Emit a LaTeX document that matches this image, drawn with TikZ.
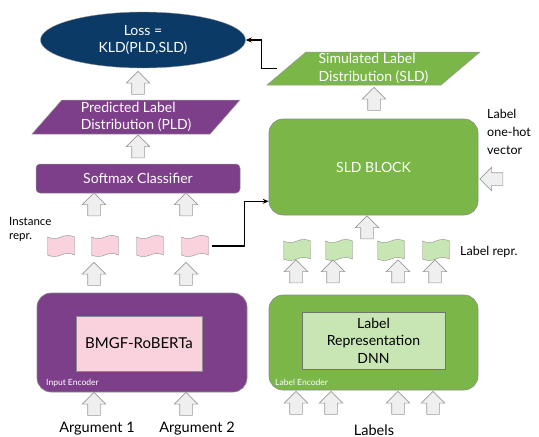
\documentclass[tikz,border=0pt]{standalone}
\usepackage{fontspec}
\setmainfont{Lato}
\usetikzlibrary{shapes.geometric,shapes.symbols,shapes.arrows,arrows.meta,calc}
\definecolor{navy}{HTML}{0C3A66}
\definecolor{plum}{HTML}{7E3F8A}
\definecolor{leaf}{HTML}{7AB648}
\definecolor{paleleaf}{HTML}{C8E6B4}
\definecolor{blush}{HTML}{F9D2DE}
\definecolor{arrfill}{HTML}{EFEFEF}
\definecolor{arrline}{HTML}{9A9A9A}
\tikzset{
  bigtext/.style={font=\fontsize{14}{17.5}\selectfont},
  para/.style={trapezium, trapezium stretches body, inner sep=0pt,
    draw=black!40, line width=0.5pt, text=white, bigtext, align=left},
  panel/.style={draw=black!45, line width=0.6pt, rounded corners=14pt, inner sep=0pt},
  upblock/.style={single arrow, shape border rotate=90, fill=arrfill, draw=arrline,
    line width=0.6pt, inner sep=6pt, minimum height=23pt,
    single arrow head extend=5.5pt, single arrow head indent=0pt},
  leftblock/.style={upblock, shape border rotate=180},
  flag/.style={tape, tape bend height=3pt, minimum width=27pt, minimum height=21pt,
    inner sep=0pt, draw=black!45, line width=0.4pt},
  conn/.style={draw=black, line width=1.1pt, -{Stealth[length=6pt,width=5pt]}},
  caption/.style={font=\fontsize{11.5}{14}\selectfont, align=left},
  tag/.style={font=\fontsize{8.5}{10}\selectfont, text=white, anchor=west, inner sep=0pt},
  foot/.style={font=\fontsize{14.5}{17}\selectfont}
}
\begin{document}
\begin{tikzpicture}[x=1pt,y=-1pt]
\useasboundingbox (0,0) rectangle (539,437);

% ---------- top: loss ----------
\node[ellipse, fill=navy, draw=black!40, minimum width=205, minimum height=56,
  text=white, bigtext, align=center] (loss) at (143,40) {Loss =\\KLD(PLD,SLD)};

% ---------- left column: instance side ----------
\node[para, fill=plum, trapezium left angle=45, trapezium right angle=135,
  minimum width=208, minimum height=34] (pld) at (136,117)
  {Predicted Label\\Distribution (PLD)};

\node[fill=plum, draw=black!45, line width=0.5pt, rounded corners=4pt,
  minimum width=204, minimum height=29, text=white, bigtext] (soft) at (138,178.5)
  {Softmax Classifier};

\node[upblock] (a1) at (138,86) {};
\node[upblock] (a2) at (138,149.5) {};
\node[upblock] (a3) at (94,207.5) {};
\node[upblock] (a4) at (186,207.5) {};

\node[caption, anchor=north west, inner sep=0pt] (inst) at (9,217) {Instance\\repr.};
\node[flag, fill=blush] (p1) at (61,246) {};
\node[flag, fill=blush] (p2) at (105,246) {};
\node[flag, fill=blush] (p3) at (150,246) {};
\node[flag, fill=blush] (p4) at (195,246) {};

\node[upblock] (a5) at (94,277) {};
\node[upblock] (a6) at (186,277) {};

\node[panel, fill=plum, minimum width=210, minimum height=99] (ienc) at (142,342.5) {};
\node[fill=blush, draw=black!45, line width=0.5pt, minimum width=126, minimum height=55,
  font=\fontsize{15}{18}\selectfont] (bert) at (139,343.5) {BMGF-RoBERTa};
\node[tag] (itag) at (46,383) {Input Encoder};

\node[upblock] (a7) at (94,407) {};
\node[upblock] (a8) at (186,407) {};
\node[foot] (arg1) at (97,428.5) {Argument 1};
\node[foot] (arg2) at (197,428.5) {Argument 2};

% ---------- right column: label side ----------
\node[para, fill=leaf, trapezium left angle=37.5, trapezium right angle=142.5,
  minimum width=213, minimum height=33] (sld) at (373.5,68.5)
  {Simulated Label\\Distribution (SLD)};

\node[upblock] (b1) at (374,102) {};

\node[panel, fill=leaf, minimum width=209, minimum height=96, text=white, bigtext]
  (blk) at (373.5,167) {SLD BLOCK};

\node[caption, font=\fontsize{12.5}{18}\selectfont, anchor=north west, inner sep=0pt]
  (hot) at (487,109) {Label\\one-hot\\vector};
\node[leftblock] (b2) at (494.5,179) {};

\node[upblock] (b3) at (367,230.5) {};

\node[flag, fill=paleleaf] (g1) at (297,250) {};
\node[flag, fill=paleleaf] (g2) at (339,250) {};
\node[flag, fill=paleleaf] (g3) at (391,250) {};
\node[flag, fill=paleleaf] (g4) at (436,250) {};
\node[caption, font=\fontsize{12.5}{15}\selectfont, anchor=west, inner sep=0pt]
  (lrep) at (460,252) {Label repr.};

\node[upblock] (b4) at (296,274.5) {};
\node[upblock] (b5) at (333,274.5) {};
\node[upblock] (b6) at (398,274.5) {};
\node[upblock] (b7) at (435,274.5) {};

\node[panel, fill=leaf, minimum width=209, minimum height=95] (lenc) at (373.5,342.5) {};
\node[fill=paleleaf, draw=black!55, line width=0.5pt, minimum width=143, minimum height=57,
  align=center, bigtext] (dnn) at (373.5,340.5) {Label\\Representation\\DNN};
\node[tag] (ltag) at (275,382) {Label Encoder};

\node[upblock] (b8) at (296,406) {};
\node[upblock] (b9) at (331,406) {};
\node[upblock] (b10) at (398,406) {};
\node[upblock] (b11) at (433,406) {};
\node[foot] (labels) at (374,430) {Labels};

% ---------- connectors ----------
\draw[conn] ([xshift=-9pt]sld.left side) -- ++(-16,0) |- (loss.east);
\draw[conn] ([xshift=3pt]p4.east) -- ++(33,0) |- ([yshift=14pt]blk.south west);

\end{tikzpicture}
\end{document}
